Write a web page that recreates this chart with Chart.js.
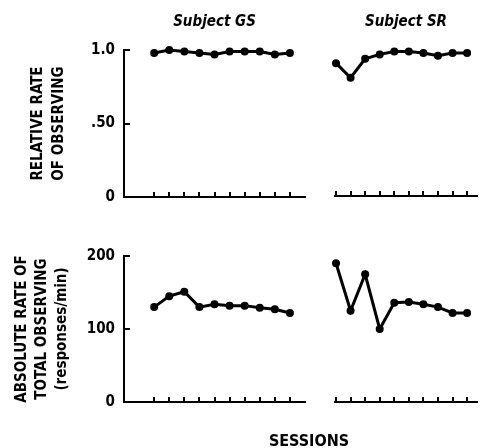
<!DOCTYPE html>
<html>
<head>
<meta charset="utf-8">
<script src="https://cdn.jsdelivr.net/npm/chart.js@4.4.1/dist/chart.umd.min.js"></script>
<style>
  body { margin: 0; background: #fff; width: 481px; height: 448px; position: relative; overflow: hidden; }
  canvas { position: absolute; }
  #sessions {
    position: absolute; left: 209px; width: 200px; top: 431px; line-height: 18px;
    text-align: center; color: #000;
    font: bold 16px 'DejaVu Sans Condensed', 'Liberation Sans Narrow', sans-serif;
  }
</style>
</head>
<body>
<canvas id="gsRel" width="310" height="215" style="left:0;top:0"></canvas>
<canvas id="srRel" width="171" height="215" style="left:310px;top:0"></canvas>
<canvas id="gsAbs" width="310" height="233" style="left:0;top:215px"></canvas>
<canvas id="srAbs" width="171" height="233" style="left:310px;top:215px"></canvas>
<div id="sessions">SESSIONS</div>
<script>
const FONT = "'DejaVu Sans Condensed', 'Liberation Sans Narrow', sans-serif";

const sessions = [1, 2, 3, 4, 5, 6, 7, 8, 9, 10];
const gsRelative = [0.98, 1.0, 0.99, 0.98, 0.97, 0.99, 0.99, 0.99, 0.97, 0.98];
const srRelative = [0.91, 0.81, 0.94, 0.97, 0.99, 0.99, 0.98, 0.96, 0.98, 0.98];
const gsAbsolute = [130, 145, 151, 130, 134, 132, 132, 129, 127, 122];
const srAbsolute = [190, 125, 175, 100, 136, 137, 134, 130, 122, 122];

const relTicks = [0, 0.5, 1];
const relTickLabels = ['0', '.50', '1.0'];
const absTicks = [0, 100, 200];
const absTickLabels = ['0', '100', '200'];

const subjects = ['Subject GS', 'Subject SR'];
const relTitle = ['RELATIVE RATE', 'OF OBSERVING'];
const absTitle = ['ABSOLUTE RATE OF', 'TOTAL OBSERVING', '(responses/min)'];

// ticks that point into the plot, like the original figure
const inwardTicks = {
  id: 'inwardTicks',
  afterDraw(chart, args, opts) {
    const { ctx, chartArea, scales } = chart;
    ctx.save();
    ctx.strokeStyle = '#000';
    ctx.lineWidth = 2;
    ctx.beginPath();
    (opts.x || []).forEach(v => {
      const px = Math.round(scales.x.getPixelForValue(v));
      ctx.moveTo(px, chartArea.bottom);
      ctx.lineTo(px, chartArea.bottom - 5);
    });
    (opts.y || []).forEach(v => {
      const py = Math.round(scales.y.getPixelForValue(v));
      ctx.moveTo(chartArea.left, py);
      ctx.lineTo(chartArea.left + 6, py);
    });
    ctx.stroke();
    ctx.restore();
  }
};

function panel(id, cfg) {
  const labels = cfg.yLabels || [];
  const showY = labels.length > 0;
  return new Chart(document.getElementById(id), {
    type: 'line',
    data: {
      datasets: [{
        data: sessions.map((s, i) => ({ x: s, y: cfg.values[i] })),
        borderColor: '#000',
        borderWidth: 3,
        pointRadius: 4,
        pointBackgroundColor: '#000',
        pointBorderWidth: 0,
        tension: 0,
        clip: false,
      }],
    },
    options: {
      responsive: false,
      animation: false,
      events: [],
      layout: { padding: cfg.padding },
      plugins: {
        legend: { display: false },
        tooltip: { enabled: false },
        title: {
          display: !!cfg.title,
          text: cfg.title || '',
          fullSize: false,
          color: '#000',
          font: { family: FONT, size: 15, weight: 'bold', style: 'italic', lineHeight: 1.2 },
          padding: { top: 13, bottom: 19 },
        },
        inwardTicks: { x: sessions, y: showY ? cfg.yTicks : [] },
      },
      scales: {
        x: {
          type: 'linear',
          min: cfg.xMin,
          max: cfg.xMax,
          afterFit: s => { s.height = 0; },
          grid: { display: false, drawTicks: false },
          border: { display: true, color: '#000', width: 2 },
          ticks: { display: false },
        },
        y: {
          type: 'linear',
          min: cfg.yTicks[0],
          max: cfg.yTicks[cfg.yTicks.length - 1],
          display: showY,
          afterBuildTicks: s => { s.ticks = cfg.yTicks.map(v => ({ value: v })); },
          afterFit: s => { s.width = showY ? 124 : 0; },
          grid: { display: false, drawTicks: false },
          border: { display: true, color: '#000', width: 2 },
          ticks: {
            color: '#000',
            padding: 9,
            font: { family: FONT, size: 15, weight: 'bold' },
            callback: (v, i) => labels[i] || '',
          },
          title: {
            display: showY,
            text: cfg.yTitle || '',
            color: '#000',
            font: { family: FONT, size: 15, weight: 'bold', lineHeight: (cfg.titleLine || 18) / 15 },
            padding: { top: cfg.titlePad || 0, bottom: 0 },
          },
        },
      },
    },
    plugins: [inwardTicks],
  });
}

panel('gsRel', {
  values: gsRelative, title: subjects[0], xMin: -1, xMax: 11,
  yTicks: relTicks, yLabels: relTickLabels, yTitle: relTitle, titleLine: 21, titlePad: 27.5,
  padding: { left: 0, right: 5, top: 0, bottom: 18 },
});
panel('srRel', {
  values: srRelative, title: subjects[1], xMin: 0.93, xMax: 10.68,
  yTicks: relTicks,
  padding: { left: 25, right: 3, top: 0, bottom: 19 },
});
panel('gsAbs', {
  values: gsAbsolute, xMin: -1, xMax: 11,
  yTicks: absTicks, yLabels: absTickLabels, yTitle: absTitle, titleLine: 20, titlePad: 12,
  padding: { left: 0, right: 5, top: 41, bottom: 46 },
});
panel('srAbs', {
  values: srAbsolute, xMin: 0.93, xMax: 10.68,
  yTicks: absTicks,
  padding: { left: 25, right: 3, top: 41, bottom: 46 },
});
</script>
</body>
</html>
